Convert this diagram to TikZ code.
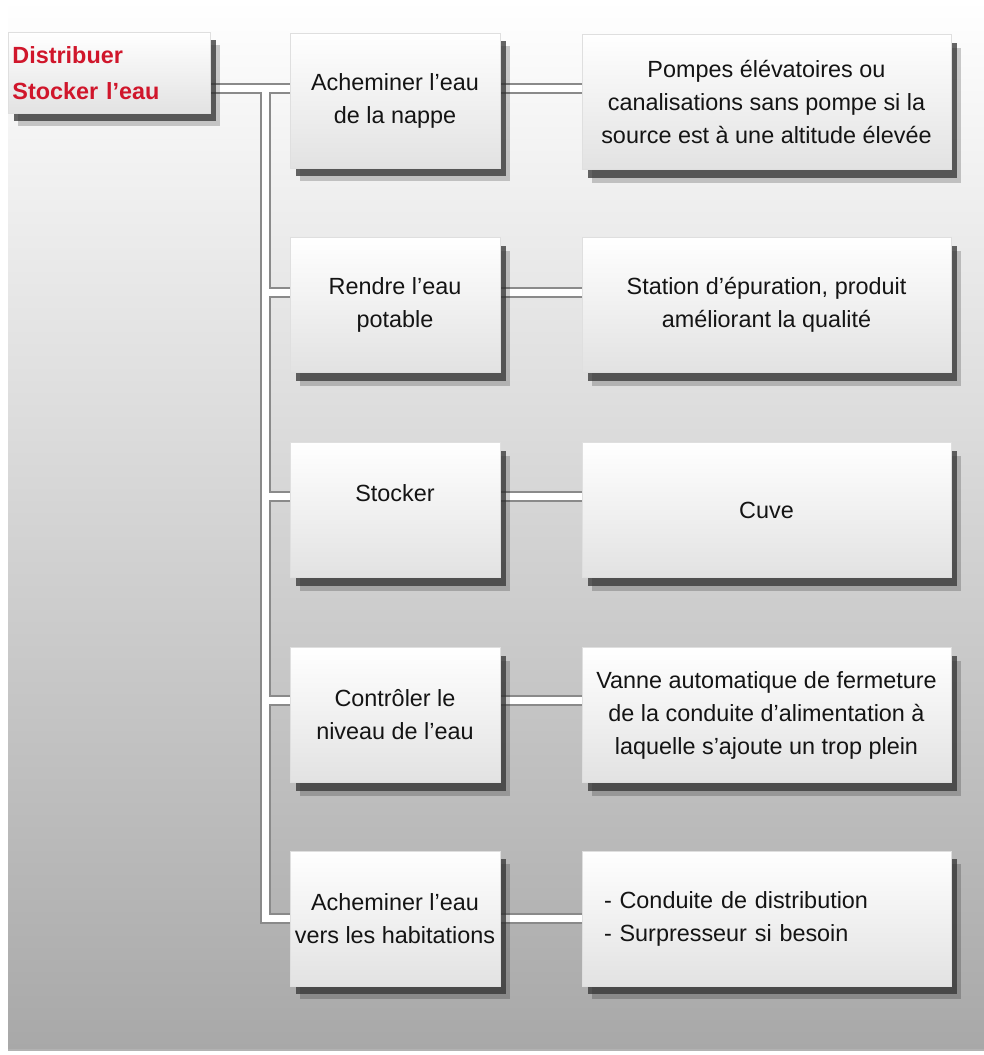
\documentclass[tikz,border=0pt]{standalone}
\usepackage{fontspec}
\setmainfont{Liberation Sans}
\usetikzlibrary{shadows}
\definecolor{rootred}{HTML}{D0162B}
\definecolor{textgray}{HTML}{141414}
\definecolor{bgbottom}{HTML}{A8A8A8}
\definecolor{bgmiddle}{HTML}{DEDEDE}
\definecolor{boxbottom}{HTML}{E2E2E2}
\definecolor{pipeedge}{HTML}{8A8A8A}
\pgfdeclarelayer{bg}
\pgfdeclarelayer{pipes}
\pgfsetlayers{bg,pipes,main}
\begin{document}
\begin{tikzpicture}[x=0.5pt, y=-0.5pt,
  box/.style={rectangle, draw=gray!25, line width=0.4pt, top color=white, bottom color=boxbottom,
    text=textgray, font=\fontsize{11.7}{16.5}\selectfont, align=center, inner sep=2pt,
    drop shadow={shadow xshift=5pt, shadow yshift=-6.5pt, fill=black, opacity=.2},
    drop shadow={shadow xshift=3pt, shadow yshift=-4pt, fill=black!80, opacity=.75}},
  midbox/.style={box, minimum width=105pt, minimum height=67.5pt},
  infobox/.style={box, minimum width=184.5pt, minimum height=67.5pt}]
\useasboundingbox (0,0) rectangle (984,1055);
% fond
\begin{pgfonlayer}{bg}
\shade[top color=white, middle color=bgmiddle, bottom color=bgbottom] (8,0) rectangle (984,1050);
\draw[gray!60, line width=1pt] (8,1050) -- (984,1050);
\end{pgfonlayer}
% racine
\node[box, align=left, anchor=north west, minimum width=101pt, minimum height=40.5pt,
  text width=97pt, text=rootred, font=\bfseries\fontsize{11.7}{18}\selectfont] (root) at (8,32)
  {Distribuer\\Stocker l’eau};
% fonctions
\node[midbox] (m1) at (395,100.5) {Acheminer l’eau\\de la nappe};
\node[midbox] (m2) at (395,305) {Rendre l’eau\\potable};
\node[midbox] (m3) at (395,510) {Stocker\\~};
\node[midbox] (m4) at (395,715) {Contrôler le\\niveau de l’eau};
\node[midbox] (m5) at (395,918.5) {Acheminer l’eau\\vers les habitations};
% solutions
\node[infobox] (i1) at (766.5,102) {Pompes élévatoires ou\\canalisations sans pompe si la\\source est à une altitude élevée};
\node[infobox] (i2) at (766.5,305) {Station d’épuration, produit\\améliorant la qualité};
\node[infobox] (i3) at (766.5,510) {Cuve};
\node[infobox] (i4) at (766.5,715) {Vanne automatique de fermeture\\de la conduite d’alimentation à\\laquelle s’ajoute un trop plein};
\node[infobox, align=left, text width=162.5pt, inner xsep=11pt] (i5) at (766.5,918.5)
  {- Conduite de distribution\\- Surpresseur si besoin};
% liaisons
\coordinate (top) at (265,88);
\coordinate (b2) at (265,292);
\coordinate (b3) at (265,496);
\coordinate (b4) at (265,700);
\begin{pgfonlayer}{pipes}
\foreach \w/\c in {5.5pt/pipeedge, 3.5pt/white} {
  \draw[line width=\w, draw=\c] (root.east |- top) -- (m1.west |- top);
  \draw[line width=\w, draw=\c] (top) -- (top |- m5.west) -- (m5.west);
  \draw[line width=\w, draw=\c] (b2) -- (m2.west |- b2);
  \draw[line width=\w, draw=\c] (b3) -- (m3.west |- b3);
  \draw[line width=\w, draw=\c] (b4) -- (m4.west |- b4);
  \draw[line width=\w, draw=\c] (m1.east |- top) -- (i1.west |- top);
  \draw[line width=\w, draw=\c] (m2.east |- b2) -- (i2.west |- b2);
  \draw[line width=\w, draw=\c] (m3.east |- b3) -- (i3.west |- b3);
  \draw[line width=\w, draw=\c] (m4.east |- b4) -- (i4.west |- b4);
  \draw[line width=\w, draw=\c] (m5.east) -- (i5.west);
}
\end{pgfonlayer}
\end{tikzpicture}
\end{document}
